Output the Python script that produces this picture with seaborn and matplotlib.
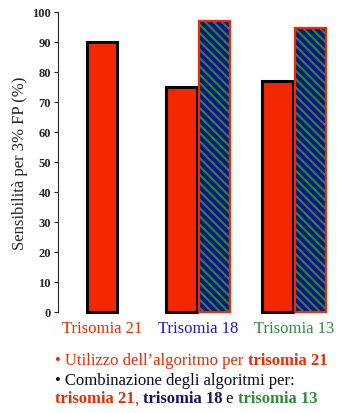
import numpy as np
import pandas as pd
import matplotlib
matplotlib.use("Agg")
import matplotlib.pyplot as plt
import seaborn as sns

# dati
categorie = ["Trisomia 21", "Trisomia 18", "Trisomia 13"]
sens_t21 = [90, 75, 77]            # algoritmo per trisomia 21
sens_comb = [np.nan, 97, 94.5]     # combinazione degli algoritmi
yticks = list(range(0, 101, 10))

ROSSO = "#f42800"
BLU = "#1a1acc"
VERDE = "#2e8b3c"
BLU_BARRA = "#1c0a9a"
VERDE_BARRA = "#13921a"
NAVY = "#141466"
col_cat = [ROSSO, BLU, VERDE]

sns.set_style("ticks")
plt.rcParams["font.family"] = ["Liberation Serif", "DejaVu Serif"]
plt.rcParams["hatch.linewidth"] = 1.6

bar_w = 0.315
off = 0.172

df = pd.DataFrame({"cat": categorie, "t21": sens_t21, "comb": sens_comb})
df["idx"] = np.arange(len(df))
df["pos_t21"] = df["idx"] - np.where(df["comb"].isna(), 0, off)
df["pos_comb"] = df["idx"] + off
comb = df.dropna(subset=["comb"])

fig = plt.figure(figsize=(3.55, 4.14), dpi=100)
ax = fig.add_axes([0.163, 0.244, 0.80, 0.725])

w1 = bar_w / np.min(np.diff(df["pos_t21"]))
sns.barplot(x=df["pos_t21"], y=df["t21"], native_scale=True, width=w1,
            color=ROSSO, edgecolor="black", linewidth=2.2, errorbar=None,
            saturation=1, ax=ax)

w2 = bar_w / np.min(np.diff(comb["pos_comb"])) if len(comb) > 1 else bar_w
sns.barplot(x=comb["pos_comb"], y=comb["comb"], native_scale=True, width=w2,
            color=BLU_BARRA, edgecolor=VERDE_BARRA, linewidth=0, hatch="\\\\\\\\",
            errorbar=None, saturation=1, ax=ax)
sns.barplot(x=comb["pos_comb"], y=comb["comb"], native_scale=True, width=w2,
            color=ROSSO, fill=False, linewidth=1.6, errorbar=None,
            saturation=1, ax=ax)
for p in ax.patches:
    p.set_clip_on(False)

ax.set_xlim(-0.46, 2.5)
ax.set_ylim(0, 100)
ax.set_yticks(yticks)
ax.tick_params(axis="y", labelsize=9, length=3, width=0.8, pad=2)
for lab in ax.get_yticklabels():
    lab.set_fontweight("bold")
ax.set_xticks(df["idx"])
ax.set_xticklabels(categorie, fontsize=12)
for lab, c in zip(ax.get_xticklabels(), col_cat):
    lab.set_color(c)
ax.tick_params(axis="x", length=0, pad=6)
ax.set_xlabel("")
ax.set_ylabel("Sensibilità per 3% FP (%)", fontsize=12, labelpad=3)
sns.despine(ax=ax, bottom=True)
ax.spines["left"].set_linewidth(0.8)

# legenda testuale sotto il grafico
fs = 12
t1 = fig.text(0.155, 0.118, "• Utilizzo dell’algoritmo per ", color=ROSSO, fontsize=fs)
ax.annotate("trisomia 21", xy=(1, 0), xycoords=t1, color=ROSSO, fontsize=fs,
            fontweight="bold", va="bottom")
fig.text(0.155, 0.071, "• Combinazione degli algoritmi per:", color="#0a0a22", fontsize=fs)
parti = [("trisomia 21", ROSSO, "bold"), (", ", ROSSO, "normal"),
         ("trisomia 18", NAVY, "bold"), (" e ", "#0a0a22", "normal"),
         ("trisomia 13", VERDE, "bold")]
prev = fig.text(0.155, 0.026, parti[0][0], color=parti[0][1], fontsize=fs,
                fontweight=parti[0][2])
for testo, c, w in parti[1:]:
    prev = ax.annotate(testo, xy=(1, 0), xycoords=prev, color=c, fontsize=fs,
                       fontweight=w, va="bottom")

fig.savefig("out.png", dpi=100)
